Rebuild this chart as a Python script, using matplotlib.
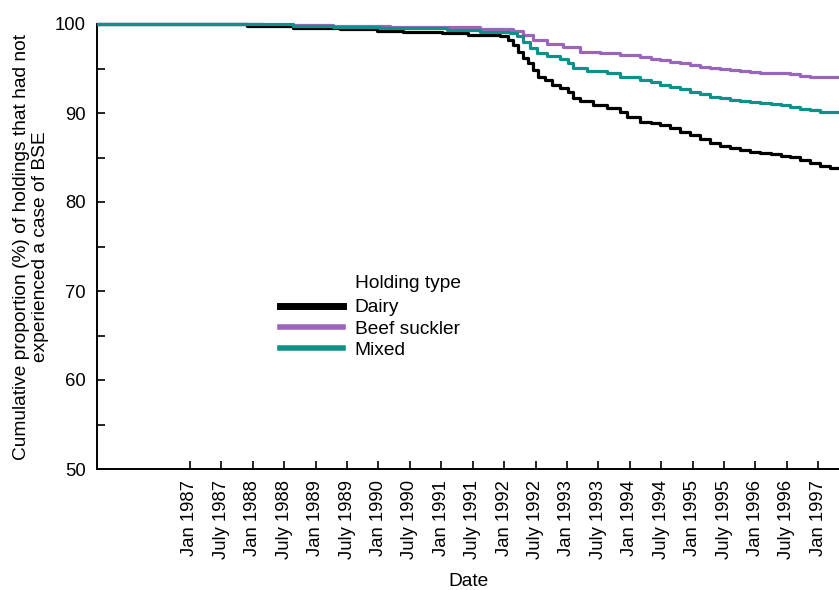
import matplotlib
matplotlib.use("Agg")
import matplotlib.pyplot as plt
from matplotlib.lines import Line2D
from matplotlib.patches import Rectangle

plt.rcParams['font.family'] = ['Liberation Sans', 'DejaVu Sans']

# Dates as decimal years, values as cumulative % of holdings without BSE
dairy_t = [1985.52, 1987.91, 1988.64, 1989.39, 1989.98, 1990.39, 1991.01, 1991.43, 1991.62,
           1991.94, 1992.06, 1992.14, 1992.22, 1992.30, 1992.38, 1992.46, 1992.54, 1992.65,
           1992.76, 1992.89, 1993.02, 1993.10, 1993.21, 1993.42, 1993.64, 1993.85, 1993.96,
           1994.17, 1994.33, 1994.48, 1994.64, 1994.80, 1994.96, 1995.12, 1995.28, 1995.44,
           1995.60, 1995.76, 1995.92, 1996.08, 1996.24, 1996.40, 1996.55, 1996.71, 1996.87,
           1997.03, 1997.19, 1997.40]
dairy_v = [100.0, 99.75, 99.55, 99.4, 99.25, 99.1, 98.95, 98.8, 98.76,
           98.6, 98.2, 97.6, 96.9, 96.2, 95.6, 94.8, 94.1, 93.7,
           93.1, 92.8, 92.4, 91.7, 91.3, 90.9, 90.6, 90.1, 89.6,
           89.0, 88.9, 88.6, 88.3, 87.9, 87.5, 87.1, 86.6, 86.3,
           86.1, 85.8, 85.6, 85.5, 85.4, 85.2, 85.1, 84.7, 84.4,
           84.0, 83.8, 83.7]

beef_t = [1985.52, 1988.16, 1988.64, 1989.28, 1990.18, 1991.09, 1991.62, 1992.14, 1992.30,
          1992.46, 1992.69, 1992.94, 1993.21, 1993.53, 1993.85, 1994.17, 1994.33, 1994.48,
          1994.64, 1994.80, 1994.96, 1995.12, 1995.28, 1995.44, 1995.60, 1995.76, 1995.92,
          1996.08, 1996.24, 1996.40, 1996.55, 1996.71, 1996.87, 1997.03, 1997.40]
beef_v = [100.0, 99.9, 99.85, 99.8, 99.7, 99.65, 99.4, 99.25, 98.8,
          98.2, 97.75, 97.4, 96.9, 96.7, 96.5, 96.3, 96.1, 95.9,
          95.7, 95.6, 95.4, 95.2, 95.1, 94.9, 94.8, 94.7, 94.6,
          94.55, 94.5, 94.45, 94.4, 94.2, 94.0, 94.0, 93.9]

mixed_t = [1985.52, 1987.91, 1988.64, 1989.28, 1990.03, 1991.09, 1991.62, 1992.10, 1992.21,
           1992.30, 1992.41, 1992.53, 1992.69, 1992.89, 1993.02, 1993.10, 1993.32, 1993.64,
           1993.85, 1994.17, 1994.33, 1994.48, 1994.64, 1994.80, 1994.96, 1995.12, 1995.28,
           1995.44, 1995.60, 1995.76, 1995.92, 1996.08, 1996.24, 1996.40, 1996.55, 1996.71,
           1996.87, 1997.03, 1997.40]
mixed_v = [100.0, 99.95, 99.75, 99.65, 99.5, 99.35, 99.1, 99.0, 98.6,
           98.0, 97.3, 96.7, 96.4, 96.1, 95.6, 95.1, 94.75, 94.5,
           94.1, 93.7, 93.5, 93.2, 92.9, 92.65, 92.4, 92.1, 91.8,
           91.65, 91.5, 91.35, 91.2, 91.1, 91.0, 90.85, 90.7, 90.5,
           90.3, 90.15, 90.0]

tick_pos = [1987 + 0.5 * i for i in range(21)]
tick_labels = [("Jan " if i % 2 == 0 else "July ") + str(1987 + i // 2) for i in range(21)]
y_ticks = [50, 60, 70, 80, 90, 100]
y_minor = [55, 65, 75, 85, 95]

black = "#000000"
purple = "#9966bb"
teal = "#0f918a"

fig = plt.figure(figsize=(8.39, 5.90), dpi=100)
ax = fig.add_axes([97/839, 1 - 469/590, 1 - 97/839, (469 - 24)/590])

clip_rect = Rectangle((0, 0), 1, 1.03, transform=ax.transAxes)
for t, v, c, z in [(beef_t, beef_v, purple, 2), (dairy_t, dairy_v, black, 3),
                   (mixed_t, mixed_v, teal, 4)]:
    ln, = ax.plot(t, v, drawstyle='steps-post', color=c, lw=2.3, zorder=z)
    ln.set_clip_path(clip_rect)

ax.set_xlim(1985.52, 1997.33)
ax.set_ylim(50, 100)

for s in ['top', 'right']:
    ax.spines[s].set_visible(False)
for s in ['left', 'bottom']:
    ax.spines[s].set_linewidth(1.4)

ax.set_xticks(tick_pos)
ax.set_xticklabels(tick_labels, rotation=90, fontsize=13.3)
ax.set_yticks(y_ticks)
ax.set_yticks(y_minor, minor=True)
ax.set_yticklabels([str(v) for v in y_ticks], fontsize=13.3)
ax.tick_params(which='both', direction='in', length=6, width=1.2)
ax.tick_params(axis='x', pad=8)
ax.tick_params(axis='y', pad=8)

ax.set_xlabel("Date", fontsize=13.8, labelpad=10)
ax.set_ylabel("Cumulative proportion (%) of holdings that had not\nexperienced a case of BSE",
              fontsize=13.8, labelpad=4, linespacing=1.15)

handles = [Line2D([], [], color=black, lw=5),
           Line2D([], [], color=purple, lw=4),
           Line2D([], [], color=teal, lw=4)]
leg = ax.legend(handles, ["Dairy", "Beef suckler", "Mixed"], loc='upper left',
                bbox_to_anchor=(280/839, 1 - 299/590), bbox_transform=fig.transFigure,
                frameon=False, fontsize=13.8, handlelength=3.3, handletextpad=0.6,
                labelspacing=0.2, borderpad=0, borderaxespad=0)
fig.text(355/839, 1 - 284/590, "Holding type", fontsize=13.8, va='center', ha='left')

fig.savefig("out.png", dpi=100)
